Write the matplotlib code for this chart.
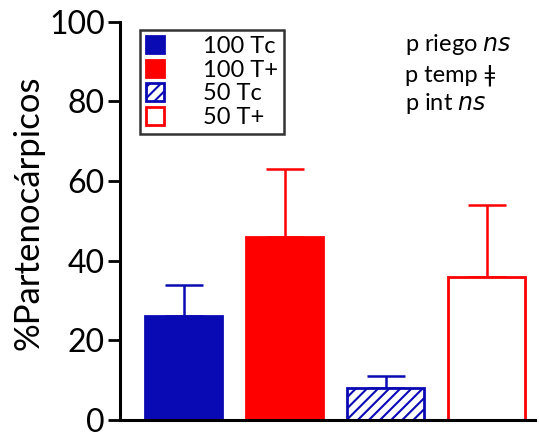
import matplotlib.pyplot as plt

plt.rcParams['font.family'] = ['Lato', 'DejaVu Sans']
plt.rcParams['hatch.linewidth'] = 1.5

labels = ['100 Tc', '100 T+', '50 Tc', '50 T+']
means = [26, 46, 8, 36]
errs = [8, 17, 3, 18]

blue = '#0a0ab4'
red = '#ff0000'
colors = [blue, red, 'white', 'white']
edges = [blue, red, blue, red]
hatches = [None, None, '///', None]

fig = plt.figure(figsize=(5.39, 4.37), dpi=100)
ax = fig.add_axes([0.2226, 0.039, 0.77, 0.911])

x = range(len(means))
for i in x:
    ax.bar(i, means[i], width=0.76, color=colors[i], edgecolor=edges[i],
           hatch=hatches[i], linewidth=2, label=labels[i], zorder=2)
    ax.errorbar(i, means[i], yerr=[[0], [errs[i]]], fmt='none', ecolor=edges[i],
                elinewidth=1.8, capsize=13.5, capthick=1.8, zorder=1)

ax.set_xlim(-0.63, 3.48)
ax.set_ylim(0, 100)
ax.set_yticks([0, 20, 40, 60, 80, 100])
ax.set_xticks([])
ax.tick_params(axis='y', labelsize=23, width=2, length=9, pad=2)
ax.set_ylabel('%Partenocárpicos', fontsize=25, labelpad=3)
ax.yaxis.label.set_y(0.52)
for s in ['top', 'right']:
    ax.spines[s].set_visible(False)
for s in ['left', 'bottom']:
    ax.spines[s].set_linewidth(2.2)

leg = ax.legend(loc='upper left', bbox_to_anchor=(0.048, 0.98), fontsize=17,
                frameon=True, fancybox=False, edgecolor='black',
                handlelength=0.76, handleheight=0.76, handletextpad=1.65,
                labelspacing=0.12, borderpad=0.25, borderaxespad=0)
leg.get_frame().set_linewidth(1.8)

ax.text(0.687, 0.942, 'p riego $\\it{ns}$', transform=ax.transAxes, fontsize=17, va='center')
ax.text(0.687, 0.867, 'p temp ǂ', transform=ax.transAxes, fontsize=17, va='center')
ax.text(0.687, 0.796, 'p int $\\it{ns}$', transform=ax.transAxes, fontsize=17, va='center')

fig.savefig('out.png', dpi=100)
